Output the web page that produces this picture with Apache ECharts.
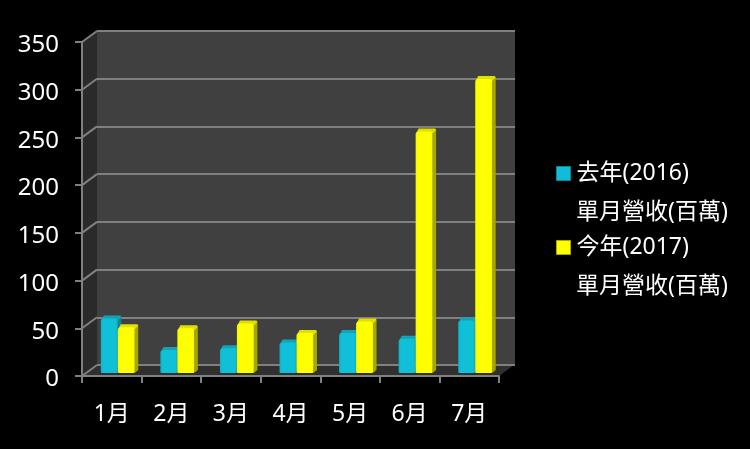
<!DOCTYPE html>
<html><head><meta charset="utf-8">
<style>html,body{margin:0;padding:0;background:#000}#c{width:750px;height:449px}</style>
<script src="https://cdn.jsdelivr.net/npm/echarts@6/dist/echarts.min.js"></script>
</head><body><div id="c"></div>
<script>
const categories = ['1月','2月','3月','4月','5月','6月','7月'];
const lastYear = [57,24,26,32,42,36,55];
const thisYear = [48,47,52,42,54,253,308];
const yTicks = [0,50,100,150,200,250,300,350];
const lastYearName = '去年(2016)';
const thisYearName = '今年(2017)';
const subLabel = '單月營收(百萬)';

const FONT = '"Noto Sans","Noto Sans CJK TC",sans-serif';
const DX = 15, DY = -11;
const chart = echarts.init(document.getElementById('c'), null, {renderer:'canvas'});

function barItem(side, c){
  return function(params, api){
    const idx = api.value(0), v = api.value(1);
    const band = api.size([1,0])[0];
    const p0 = api.coord([idx,0]), p1 = api.coord([idx,v]);
    const w = band*0.285, d = 3.5, dy = -3;
    const cx = p0[0] + 6;
    const x = side < 0 ? cx - w : cx;
    const base = p0[1] - 3, top = p1[1] - 3;
    return {type:'group', children:[
      {type:'polygon', shape:{points:[[x+w,top+1],[x+w+d,top+dy+1],[x+w+d,base+dy],[x+w,base]]}, style:{fill:c.side}},
      {type:'polygon', shape:{points:[[x+1,top+1],[x+3,top+dy],[x+w+d-1,top+dy],[x+w+d,top+dy+1.5],[x+w,top+2]]}, style:{fill:c.top}},
      {type:'rect', shape:{x:x,y:top,width:w,height:base-top,r:[3,3,1,1]},
        style:{fill:new echarts.graphic.LinearGradient(0,0,1,0,[
          {offset:0,color:c.edge},{offset:.12,color:c.face},{offset:.88,color:c.face},{offset:1,color:c.edge}])}}
    ]};
  };
}
const blue = {face:'#0fc0d8',edge:'#0cafc6',top:'#10a3b9',side:'#0b8496'};
const yellow = {face:'#ffff00',edge:'#f4f400',top:'#e0e000',side:'#a6a600'};

chart.setOption({
  animation:false,
  backgroundColor:'#000',
  textStyle:{fontFamily:FONT},
  grid:[
    {left:82,top:42,width:417,height:334},
    {left:97,top:31,width:418,height:334,show:true,backgroundColor:'#404040',borderWidth:0}
  ],
  xAxis:[
    {type:'category',gridIndex:0,data:categories,boundaryGap:true,z:3,
     axisLine:{lineStyle:{color:'#808080',width:2}},
     axisTick:{show:true,length:7,alignWithLabel:false,lineStyle:{color:'#808080',width:2}},
     axisLabel:{color:'#fff',fontSize:23,margin:27,fontFamily:FONT}},
    {type:'category',gridIndex:1,data:categories,show:false}
  ],
  yAxis:[
    {type:'value',gridIndex:0,min:0,max:350,interval:50,z:3,
     axisLine:{show:true,lineStyle:{color:'#808080',width:2}},
     axisTick:{show:true,length:7,lineStyle:{color:'#808080',width:2}},
     splitLine:{show:false},
     axisLabel:{color:'#fff',margin:23,
       formatter:v=>yTicks.includes(v)?'{n|'+v+'}':'',
       rich:{n:{color:'#fff',fontSize:24,fontFamily:FONT,padding:[7,0,0,0]}}}},
    {type:'value',gridIndex:1,min:0,max:350,interval:50,z:2,
     axisLine:{show:false},axisTick:{show:false},axisLabel:{show:false},
     splitLine:{show:true,lineStyle:{color:'#808080',width:2}}}
  ],
  legend:{
    orient:'vertical',left:551,top:157,itemWidth:14,itemHeight:14,itemGap:51,
    icon:'rect',selectedMode:false,
    textStyle:{color:'#fff',fontSize:23,fontFamily:FONT,padding:[0,0,0,1]},
    data:[
      {name:lastYearName,itemStyle:{color:'#10bcd6',borderColor:'#0b8496',borderWidth:1}},
      {name:thisYearName,itemStyle:{color:'#ffff00',borderColor:'#a6a600',borderWidth:1}}
    ]
  },
  graphic:[
    {type:'text',left:576,top:201,z:10,style:{text:subLabel,fill:'#fff',font:'23px '+FONT}},
    {type:'text',left:576,top:275,z:10,style:{text:subLabel,fill:'#fff',font:'23px '+FONT}}
  ],
  series:[
    {type:'custom',name:'frame',xAxisIndex:0,yAxisIndex:0,z:1,silent:true,
     data:yTicks.map(v=>[0,v]),
     encode:{x:0,y:1},
     renderItem(params,api){
       const v=api.value(1);
       const band=api.size([1,0])[0];
       const left=api.coord([0,v])[0]-band/2;
       const right=left+band*categories.length;
       const y=api.coord([0,v])[1];
       const ch=[];
       if(params.dataIndex===0){
         const yTop=api.coord([0,350])[1];
         ch.push({type:'polygon',shape:{points:[[left,y],[left+DX,y+DY],[left+DX,yTop+DY],[left,yTop]]},style:{fill:'#2a2a2a'}});
         ch.push({type:'polygon',shape:{points:[[left,y],[right,y],[right+DX,y+DY],[left+DX,y+DY]]},style:{fill:'#303030'}});
       }
       ch.push({type:'line',shape:{x1:left,y1:y,x2:left+DX,y2:y+DY},style:{stroke:'#808080',lineWidth:2}});
       return {type:'group',children:ch};
     }},
    {type:'custom',name:lastYearName,xAxisIndex:0,yAxisIndex:0,z:4,
     itemStyle:{color:'#10bcd6'},
     data:lastYear.map((v,i)=>[i,v]),encode:{x:0,y:1},renderItem:barItem(-1,blue)},
    {type:'custom',name:thisYearName,xAxisIndex:0,yAxisIndex:0,z:5,
     itemStyle:{color:'#ffff00'},
     data:thisYear.map((v,i)=>[i,v]),encode:{x:0,y:1},renderItem:barItem(1,yellow)}
  ]
});
</script></body></html>
